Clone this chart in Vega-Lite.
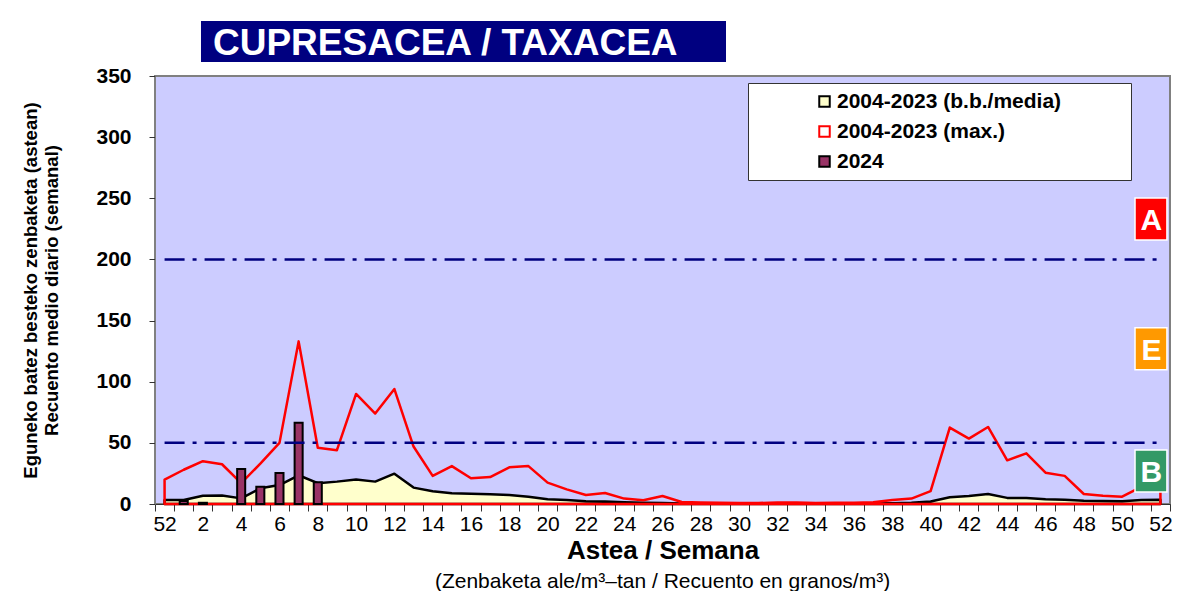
{
  "$schema": "https://vega.github.io/schema/vega-lite/v6.json",
  "background": "white",
  "padding": {"left": 20, "top": 21, "right": 5, "bottom": 0},
  "spacing": 2,
  "config": {"font": "Liberation Sans", "view": {"stroke": null}},
  "datasets": {
    "weekly": [
      {"wk": 0, "series": "2004-2023 (b.b./media)", "value": 3.3},
      {"wk": 1, "series": "2004-2023 (b.b./media)", "value": 3.3},
      {"wk": 2, "series": "2004-2023 (b.b./media)", "value": 6.8},
      {"wk": 3, "series": "2004-2023 (b.b./media)", "value": 7},
      {"wk": 4, "series": "2004-2023 (b.b./media)", "value": 4.6},
      {"wk": 5, "series": "2004-2023 (b.b./media)", "value": 12.8},
      {"wk": 6, "series": "2004-2023 (b.b./media)", "value": 15.5},
      {"wk": 7, "series": "2004-2023 (b.b./media)", "value": 23.5},
      {"wk": 8, "series": "2004-2023 (b.b./media)", "value": 17},
      {"wk": 9, "series": "2004-2023 (b.b./media)", "value": 18.3},
      {"wk": 10, "series": "2004-2023 (b.b./media)", "value": 20},
      {"wk": 11, "series": "2004-2023 (b.b./media)", "value": 18.3},
      {"wk": 12, "series": "2004-2023 (b.b./media)", "value": 24.8},
      {"wk": 13, "series": "2004-2023 (b.b./media)", "value": 13.4},
      {"wk": 14, "series": "2004-2023 (b.b./media)", "value": 10.4},
      {"wk": 15, "series": "2004-2023 (b.b./media)", "value": 8.7},
      {"wk": 16, "series": "2004-2023 (b.b./media)", "value": 8.4},
      {"wk": 17, "series": "2004-2023 (b.b./media)", "value": 8},
      {"wk": 18, "series": "2004-2023 (b.b./media)", "value": 7.4},
      {"wk": 19, "series": "2004-2023 (b.b./media)", "value": 6},
      {"wk": 20, "series": "2004-2023 (b.b./media)", "value": 3.8},
      {"wk": 21, "series": "2004-2023 (b.b./media)", "value": 3.3},
      {"wk": 22, "series": "2004-2023 (b.b./media)", "value": 2.2},
      {"wk": 23, "series": "2004-2023 (b.b./media)", "value": 2},
      {"wk": 24, "series": "2004-2023 (b.b./media)", "value": 1.5},
      {"wk": 25, "series": "2004-2023 (b.b./media)", "value": 1},
      {"wk": 26, "series": "2004-2023 (b.b./media)", "value": 0.8},
      {"wk": 27, "series": "2004-2023 (b.b./media)", "value": 0.5},
      {"wk": 28, "series": "2004-2023 (b.b./media)", "value": 0.4},
      {"wk": 29, "series": "2004-2023 (b.b./media)", "value": 0.3},
      {"wk": 30, "series": "2004-2023 (b.b./media)", "value": 0.3},
      {"wk": 31, "series": "2004-2023 (b.b./media)", "value": 0.3},
      {"wk": 32, "series": "2004-2023 (b.b./media)", "value": 0.3},
      {"wk": 33, "series": "2004-2023 (b.b./media)", "value": 0.3},
      {"wk": 34, "series": "2004-2023 (b.b./media)", "value": 0.3},
      {"wk": 35, "series": "2004-2023 (b.b./media)", "value": 0.3},
      {"wk": 36, "series": "2004-2023 (b.b./media)", "value": 0.3},
      {"wk": 37, "series": "2004-2023 (b.b./media)", "value": 0.4},
      {"wk": 38, "series": "2004-2023 (b.b./media)", "value": 0.6},
      {"wk": 39, "series": "2004-2023 (b.b./media)", "value": 1},
      {"wk": 40, "series": "2004-2023 (b.b./media)", "value": 2},
      {"wk": 41, "series": "2004-2023 (b.b./media)", "value": 5.5},
      {"wk": 42, "series": "2004-2023 (b.b./media)", "value": 6.5},
      {"wk": 43, "series": "2004-2023 (b.b./media)", "value": 8.2},
      {"wk": 44, "series": "2004-2023 (b.b./media)", "value": 5},
      {"wk": 45, "series": "2004-2023 (b.b./media)", "value": 5},
      {"wk": 46, "series": "2004-2023 (b.b./media)", "value": 3.8},
      {"wk": 47, "series": "2004-2023 (b.b./media)", "value": 3.5},
      {"wk": 48, "series": "2004-2023 (b.b./media)", "value": 2.7},
      {"wk": 49, "series": "2004-2023 (b.b./media)", "value": 2.5},
      {"wk": 50, "series": "2004-2023 (b.b./media)", "value": 2.2},
      {"wk": 51, "series": "2004-2023 (b.b./media)", "value": 3.3},
      {"wk": 52, "series": "2004-2023 (b.b./media)", "value": 3.5},
      {"wk": 0, "series": "2004-2023 (max.)", "value": 20},
      {"wk": 1, "series": "2004-2023 (max.)", "value": 28},
      {"wk": 2, "series": "2004-2023 (max.)", "value": 35},
      {"wk": 3, "series": "2004-2023 (max.)", "value": 32.5},
      {"wk": 4, "series": "2004-2023 (max.)", "value": 17},
      {"wk": 5, "series": "2004-2023 (max.)", "value": 33},
      {"wk": 6, "series": "2004-2023 (max.)", "value": 50},
      {"wk": 7, "series": "2004-2023 (max.)", "value": 133},
      {"wk": 8, "series": "2004-2023 (max.)", "value": 46},
      {"wk": 9, "series": "2004-2023 (max.)", "value": 44},
      {"wk": 10, "series": "2004-2023 (max.)", "value": 90},
      {"wk": 11, "series": "2004-2023 (max.)", "value": 74},
      {"wk": 12, "series": "2004-2023 (max.)", "value": 94},
      {"wk": 13, "series": "2004-2023 (max.)", "value": 47},
      {"wk": 14, "series": "2004-2023 (max.)", "value": 23},
      {"wk": 15, "series": "2004-2023 (max.)", "value": 31},
      {"wk": 16, "series": "2004-2023 (max.)", "value": 21},
      {"wk": 17, "series": "2004-2023 (max.)", "value": 22},
      {"wk": 18, "series": "2004-2023 (max.)", "value": 30},
      {"wk": 19, "series": "2004-2023 (max.)", "value": 31},
      {"wk": 20, "series": "2004-2023 (max.)", "value": 17.5},
      {"wk": 21, "series": "2004-2023 (max.)", "value": 12},
      {"wk": 22, "series": "2004-2023 (max.)", "value": 7.4},
      {"wk": 23, "series": "2004-2023 (max.)", "value": 9},
      {"wk": 24, "series": "2004-2023 (max.)", "value": 4.4},
      {"wk": 25, "series": "2004-2023 (max.)", "value": 3},
      {"wk": 26, "series": "2004-2023 (max.)", "value": 6.5},
      {"wk": 27, "series": "2004-2023 (max.)", "value": 1.6},
      {"wk": 28, "series": "2004-2023 (max.)", "value": 1.3},
      {"wk": 29, "series": "2004-2023 (max.)", "value": 1},
      {"wk": 30, "series": "2004-2023 (max.)", "value": 0.8},
      {"wk": 31, "series": "2004-2023 (max.)", "value": 0.8},
      {"wk": 32, "series": "2004-2023 (max.)", "value": 1.2},
      {"wk": 33, "series": "2004-2023 (max.)", "value": 1.2},
      {"wk": 34, "series": "2004-2023 (max.)", "value": 0.8},
      {"wk": 35, "series": "2004-2023 (max.)", "value": 1},
      {"wk": 36, "series": "2004-2023 (max.)", "value": 1},
      {"wk": 37, "series": "2004-2023 (max.)", "value": 1.5},
      {"wk": 38, "series": "2004-2023 (max.)", "value": 3.3},
      {"wk": 39, "series": "2004-2023 (max.)", "value": 4.4},
      {"wk": 40, "series": "2004-2023 (max.)", "value": 10.6},
      {"wk": 41, "series": "2004-2023 (max.)", "value": 62.5},
      {"wk": 42, "series": "2004-2023 (max.)", "value": 53.5},
      {"wk": 43, "series": "2004-2023 (max.)", "value": 63},
      {"wk": 44, "series": "2004-2023 (max.)", "value": 35.7},
      {"wk": 45, "series": "2004-2023 (max.)", "value": 41.4},
      {"wk": 46, "series": "2004-2023 (max.)", "value": 25.6},
      {"wk": 47, "series": "2004-2023 (max.)", "value": 23},
      {"wk": 48, "series": "2004-2023 (max.)", "value": 8.2},
      {"wk": 49, "series": "2004-2023 (max.)", "value": 6.8},
      {"wk": 50, "series": "2004-2023 (max.)", "value": 6},
      {"wk": 51, "series": "2004-2023 (max.)", "value": 14},
      {"wk": 52, "series": "2004-2023 (max.)", "value": 15},
      {"wk": 1, "series": "2024", "value": 2.5},
      {"wk": 2, "series": "2024", "value": 1},
      {"wk": 4, "series": "2024", "value": 28.6},
      {"wk": 5, "series": "2024", "value": 14.2},
      {"wk": 6, "series": "2024", "value": 25.3},
      {"wk": 7, "series": "2024", "value": 66.5},
      {"wk": 8, "series": "2024", "value": 17.7}
    ],
    "thresholds": [
      {"level": 200},
      {"level": 50}
    ],
    "classes": [
      {"label": "A", "level": 233},
      {"label": "E", "level": 127},
      {"label": "B", "level": 27}
    ]
  },
  "vconcat": [
    {
      "width": 571,
      "height": 41,
      "data": {"values": [{"title": "CUPRESACEA / TAXACEA"}]},
      "encoding": {
        "x": {"field": "title", "type": "nominal", "axis": null,
              "scale": {"paddingInner": 0, "paddingOuter": 0.0438, "align": 1}}
      },
      "layer": [
        {"mark": {"type": "rect", "fill": "#000080"}},
        {"mark": {"type": "text", "align": "left", "baseline": "middle", "dx": 12, "dy": 2,
                  "fill": "white", "fontSize": 37, "fontWeight": "bold"},
         "encoding": {
           "x": {"field": "title", "type": "nominal", "bandPosition": 0},
           "text": {"field": "title"}
         }}
      ]
    },
    {
      "width": 1015,
      "height": 428,
      "view": {"fill": "#CCCCFF", "stroke": "#808080", "strokeWidth": 2},
      "title": {"text": "(Zenbaketa ale/m³–tan / Recuento en granos/m³)", "orient": "bottom",
                "fontSize": 21, "fontWeight": "normal", "color": "black", "offset": 8},
      "encoding": {
        "x": {"field": "wk", "type": "ordinal",
              "scale": {"domain": [0,1,2,3,4,5,6,7,8,9,10,11,12,13,14,15,16,17,18,19,20,21,22,23,24,25,26,27,28,29,30,31,32,33,34,35,36,37,38,39,40,41,42,43,44,45,46,47,48,49,50,51,52],
                        "paddingInner": 0, "paddingOuter": 0},
              "axis": {"title": "Astea / Semana", "labelExpr": "datum.value == 0 ? '52' : (datum.value % 2 == 0 ? datum.label : '')",
                       "tickBand": "extent", "labelAngle": 0, "labelFont": "Liberation Sans", "labelFontSize": 21,
                       "labelColor": "black", "tickColor": "#333333", "tickSize": 7, "domainColor": "#333333",
                       "labelPadding": 2, "labelOverlap": false, "labelBound": false,
                       "titleFontSize": 26, "titleFontWeight": "bold", "titleColor": "black", "titlePadding": 3}}
      },
      "layer": [
        {
          "data": {"name": "weekly"},
          "transform": [{"filter": "datum.series == '2004-2023 (b.b./media)'"}],
          "mark": {"type": "area", "fill": "#FFFFCC", "stroke": "black", "strokeWidth": 2.5, "strokeJoin": "round"},
          "encoding": {
            "y": {"field": "value", "type": "quantitative",
                  "scale": {"domain": [0, 350]},
                  "axis": {"title": ["Eguneko batez besteko zenbaketa (astean)", "Recuento medio diario (semanal)"],
                           "values": [0, 50, 100, 150, 200, 250, 300, 350], "grid": false,
                           "labelFontSize": 21, "labelFontWeight": "bold", "labelColor": "black",
                           "tickSize": 6, "tickColor": "#333333", "domainColor": "#808080", "labelPadding": 18,
                           "titleFontSize": 18.5, "titleLineHeight": 21, "titleFontWeight": "bold", "titleColor": "black", "titlePadding": 34}}
          }
        },
        {
          "data": {"name": "weekly"},
          "transform": [{"filter": "datum.series == '2004-2023 (max.)'"}],
          "mark": {"type": "area", "fill": "transparent", "stroke": "#FF0000", "strokeWidth": 2.5, "strokeJoin": "round"},
          "encoding": {
            "y": {"field": "value", "type": "quantitative"}
          }
        },
        {
          "data": {"name": "weekly"},
          "transform": [{"filter": "datum.series == '2024'"}],
          "mark": {"type": "bar", "width": {"band": 0.42}, "strokeWidth": 2},
          "encoding": {
            "y": {"field": "value", "type": "quantitative"},
            "fill": {"field": "series", "type": "nominal",
                     "scale": {"domain": ["2004-2023 (b.b./media)", "2004-2023 (max.)", "2024"], "range": ["#FFFFCC", "#FFFFFF", "#993366"]},
                     "legend": {"title": "MMMMM", "titleOrient": "right", "titleColor": "transparent", "titleFontSize": 12, "titlePadding": 12,
                                "orient": "none", "legendX": 593, "legendY": 62,
                                "fillColor": "white", "strokeColor": "#333333", "padding": 8,
                                "labelFontSize": 21, "labelFontWeight": "bold", "labelColor": "black", "labelLimit": 0,
                                "symbolType": "square", "symbolSize": 110, "symbolStrokeWidth": 2,
                                "symbolOffset": 58, "labelOffset": 2, "rowPadding": 8}},
            "stroke": {"field": "series", "type": "nominal",
                       "scale": {"domain": ["2004-2023 (b.b./media)", "2004-2023 (max.)", "2024"], "range": ["black", "#FF0000", "black"]},
                       "legend": {"title": "MMMMM", "titleOrient": "right", "titleColor": "transparent", "titleFontSize": 12, "titlePadding": 12,
                                "orient": "none", "legendX": 593, "legendY": 62,
                                "fillColor": "white", "strokeColor": "#333333", "padding": 8,
                                "labelFontSize": 21, "labelFontWeight": "bold", "labelColor": "black", "labelLimit": 0,
                                "symbolType": "square", "symbolSize": 110, "symbolStrokeWidth": 2,
                                "symbolOffset": 58, "labelOffset": 2, "rowPadding": 8}}
          }
        },
        {
          "data": {"name": "thresholds"},
          "mark": {"type": "rule", "stroke": "#000080", "strokeWidth": 2.5, "strokeDash": [20, 8, 4, 8]},
          "encoding": {
            "x": {"datum": 0},
            "x2": {"datum": 52},
            "y": {"field": "level", "type": "quantitative"}
          }
        },
        {
          "data": {"name": "classes"},
          "mark": {"type": "point", "filled": true, "opacity": 1, "size": 1764,
                   "shape": "M-1.21,-1H0.31V1H-1.21Z", "stroke": "white", "strokeWidth": 1.5},
          "encoding": {
            "x": {"datum": 52},
            "y": {"field": "level", "type": "quantitative"},
            "color": {"field": "label", "type": "nominal",
                      "scale": {"domain": ["A", "E", "B"], "range": ["#FF0000", "#FF9900", "#339966"]},
                      "legend": null}
          }
        },
        {
          "data": {"name": "classes"},
          "mark": {"type": "text", "fill": "white", "fontSize": 30, "fontWeight": "bold",
                   "baseline": "middle", "align": "center", "dx": -9, "dy": 2},
          "encoding": {
            "x": {"datum": 52},
            "y": {"field": "level", "type": "quantitative"},
            "text": {"field": "label"}
          }
        }
      ]
    }
  ]
}
